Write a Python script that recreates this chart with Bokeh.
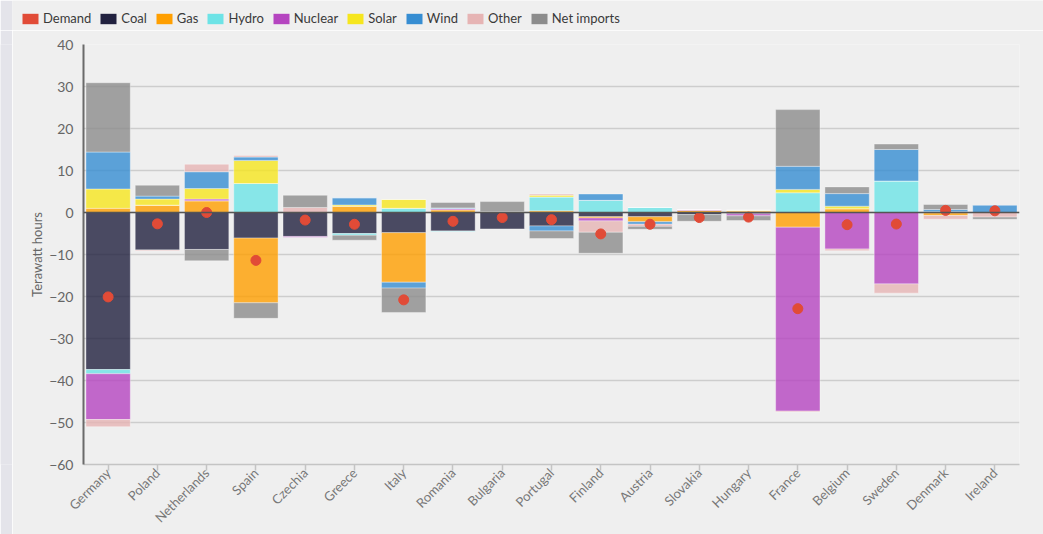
import math
import numpy as np
from bokeh.plotting import figure
from bokeh.layouts import row, column
from bokeh.models import Range1d, FactorRange, Legend, LegendItem, Span, ColumnDataSource
from bokeh.embed import file_html
from bokeh.resources import INLINE

countries = ["Germany", "Poland", "Netherlands", "Spain", "Czechia", "Greece", "Italy",
             "Romania", "Bulgaria", "Portugal", "Finland", "Austria", "Slovakia",
             "Hungary", "France", "Belgium", "Sweden", "Denmark", "Ireland"]

coal = [-37.4, -8.9, -8.8, -6.1, -5.7, -5.0, -4.8, -4.4, -3.9, -3.2, -1.0, -1.0, -0.5, -0.3, 0.0, 0.0, 0.0, -0.1, 0.0]
gas = [1.0, 1.75, 2.8, -15.4, 0.0, 1.5, -11.8, 0.6, 0.0, 0.4, -0.3, -1.2, 0.5, 0.4, -3.5, 0.9, 0.0, -0.6, 0.0]
hydro = [-1.0, 0.0, 0.0, 6.9, 0.0, -0.4, 1.0, -0.1, 0.0, 3.3, 2.9, 1.2, 0.0, 0.0, 4.7, 0.0, 7.5, 0.2, 0.0]
nuclear = [-10.9, 0.0, 0.4, 0.0, -0.2, 0.0, 0.0, 0.3, 0.0, 0.0, -0.7, 0.0, 0.2, -0.5, -43.8, -8.7, -17.0, 0.0, 0.0]
solar = [4.6, 1.45, 2.5, 5.5, 0.0, 0.3, 2.1, 0.0, 0.2, 0.4, 0.0, 0.0, 0.0, 0.15, 0.8, 0.6, 0.0, 0.0, 0.0]
wind = [8.8, 0.7, 4.0, 0.8, 0.0, 1.7, -1.4, 0.2, 0.0, -1.2, 1.5, -0.6, 0.0, 0.0, 5.5, 3.0, 7.5, 0.5, 1.7]
other = [-1.7, -0.2, 1.8, 0.4, 1.2, 0.0, 0.0, 0.0, 0.0, 0.3, -2.7, -0.5, 0.0, 0.0, -0.2, -0.4, -2.2, -0.9, -1.1]
net_imports = [16.5, 2.6, -2.7, -3.7, 2.9, -1.2, -5.8, 1.3, 2.4, -1.8, -5.0, -0.7, -1.6, -1.1, 13.5, 1.6, 1.3, 1.2, -0.5]
demand = [-20.1, -2.7, 0.0, -11.4, -1.8, -2.8, -20.8, -2.1, -1.2, -1.7, -5.1, -2.8, -1.2, -1.1, -22.9, -2.9, -2.75, 0.5, 0.4]

series_names = ["Coal", "Gas", "Hydro", "Nuclear", "Solar", "Wind", "Other", "Net imports"]
series_values = [coal, gas, hydro, nuclear, solar, wind, other, net_imports]
series_colors = ["#21213f", "#ff9f00", "#6de3e6", "#b545c0", "#f6e61e", "#368dd2", "#e6b4b4", "#8c8c8c"]
demand_color = "#e14b37"

FONT = "Lato"
BG = "#efefef"
STRIP_COLOR = "#e4e4ea"
STRIP = 12
LEG_H = 30

# legend band across the top (left border acts as the page strip)
leg = figure(width=1043, height=LEG_H, x_range=Range1d(0, 1), y_range=Range1d(0, 1),
             output_backend="svg", toolbar_location=None, x_axis_type=None, y_axis_type=None,
             background_fill_color=BG, border_fill_color=STRIP_COLOR, outline_line_color=None,
             min_border_left=STRIP, min_border_right=0, min_border_top=0, min_border_bottom=0)
leg.grid.grid_line_color = None
items = []
for name, col in zip(["Demand"] + series_names, [demand_color] + series_colors):
    # swatch renderer kept outside the visible range; only its legend glyph shows
    r = leg.vbar(x=[5], top=[1], width=0.9, fill_color=col, line_color=None)
    items.append(LegendItem(label=name, renderers=[r]))
legend = Legend(items=items, orientation="horizontal", location=(8, 4),
                glyph_width=20, glyph_height=13, label_height=13, label_standoff=3,
                spacing=7, padding=0, margin=0, background_fill_alpha=0,
                border_line_alpha=0, label_text_font=FONT, label_text_font_size="13px",
                label_text_color="#3a3a3a")
leg.add_layout(legend, "center")

# narrow strip on the left edge of the page
strip = figure(width=STRIP, height=534 - LEG_H, x_range=Range1d(0, 1), y_range=Range1d(0, 1),
               output_backend="svg", toolbar_location=None, x_axis_type=None, y_axis_type=None,
               background_fill_color=STRIP_COLOR, border_fill_color=STRIP_COLOR,
               outline_line_color=None, min_border=0)
strip.grid.grid_line_color = None
strip.vbar(x=[5], top=[1], width=0.5)

# main chart
p = figure(x_range=FactorRange(*countries), y_range=Range1d(-60, 40),
           width=1043 - STRIP, height=534 - LEG_H, output_backend="svg", toolbar_location=None,
           background_fill_color=BG, border_fill_color=BG, outline_line_color=None,
           min_border_left=83 - STRIP, min_border_right=24, min_border_top=44 - LEG_H,
           min_border_bottom=69)

pos_base = np.zeros(len(countries))
neg_base = np.zeros(len(countries))
for name, vals, col in zip(series_names, series_values, series_colors):
    v = np.array(vals, dtype=float)
    bottom = np.where(v >= 0, pos_base, neg_base)
    top = bottom + v
    pos_base = np.where(v >= 0, pos_base + v, pos_base)
    neg_base = np.where(v < 0, neg_base + v, neg_base)
    src = ColumnDataSource(dict(x=countries, bottom=bottom, top=top))
    p.vbar(x="x", bottom="bottom", top="top", width=0.9, source=src,
           fill_color=col, fill_alpha=0.8, line_color="white", line_alpha=0.35, line_width=1)

p.add_layout(Span(location=0, dimension="width", line_color="#555555", line_width=1.5))

p.scatter(x=countries, y=demand, size=10, fill_color=demand_color, line_color=demand_color)

p.ygrid.grid_line_color = "#cdcdcd"
p.ygrid.grid_line_width = 1.5
p.xgrid.grid_line_color = None

p.yaxis.axis_label = "Terawatt hours"
p.yaxis.axis_label_text_font = FONT
p.yaxis.axis_label_text_font_style = "normal"
p.yaxis.axis_label_text_font_size = "13px"
p.yaxis.axis_label_text_color = "#666666"
p.yaxis.axis_label_standoff = 1
p.yaxis.axis_line_color = "#6a6a6a"
p.yaxis.axis_line_width = 2
p.yaxis.major_tick_out = 0
p.yaxis.major_tick_in = 0
p.yaxis.minor_tick_out = 0
p.yaxis.minor_tick_in = 0
p.yaxis.ticker = [-60, -50, -40, -30, -20, -10, 0, 10, 20, 30, 40]
p.yaxis.major_label_text_font = FONT
p.yaxis.major_label_text_font_size = "14px"
p.yaxis.major_label_text_color = "#666666"
p.yaxis.major_label_standoff = 10

p.xaxis.axis_line_color = "#c4c4c4"
p.xaxis.axis_line_width = 1.5
p.xaxis.major_tick_out = 6
p.xaxis.major_tick_in = 0
p.xaxis.major_tick_line_color = "#c4c4c4"
p.xaxis.major_tick_line_width = 1.5
p.xaxis.major_label_orientation = math.pi / 4
p.xaxis.major_label_text_font = FONT
p.xaxis.major_label_text_font_size = "13px"
p.xaxis.major_label_text_color = "#777777"
p.xaxis.major_label_standoff = 0

layout = column(leg, row(strip, p, spacing=0), spacing=0)

open("out.html", "w").write(file_html(layout, INLINE))
